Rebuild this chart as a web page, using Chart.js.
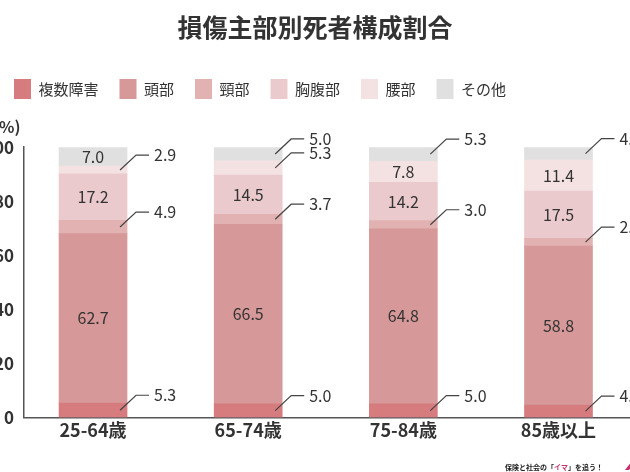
<!DOCTYPE html>
<html><head><meta charset="utf-8">
<script src="https://cdn.jsdelivr.net/npm/chart.js@4.4.1/dist/chart.umd.min.js"></script>
<style>
html,body{margin:0;padding:0;background:#fff;overflow:hidden;width:630px;height:472px;}
#wrap{position:absolute;left:-14px;top:0;width:658px;height:472px;}
</style></head><body>
<div id="wrap"><canvas id="c" width="658" height="472"></canvas></div>
<script>
const categories = ['25-64歳','65-74歳','75-84歳','85歳以上'];
const seriesNames = ['複数障害','頭部','頸部','胸腹部','腰部','その他'];
const multiple = [5.3, 5.0, 5.0, 4.6];
const head = [62.7, 66.5, 64.8, 58.8];
const neck = [4.9, 3.7, 3.0, 2.9];
const chestAbdomen = [17.2, 14.5, 14.2, 17.5];
const waist = [2.9, 5.3, 7.8, 11.4];
const other = [7.0, 5.0, 5.3, 4.8];
const yTicks = [0, 20, 40, 60, 80, 100];
const colors = ['#d67b7e','#d69898','#e2b2b2','#eacacc','#f4e2e3','#e0e0e0'];
const seriesValues = [multiple, head, neck, chestAbdomen, waist, other];
const FONT = '"Noto Sans CJK JP","Noto Sans",sans-serif';

const valueLabels = {
  id: 'valueLabels',
  afterDatasetsDraw(chart) {
    const ctx = chart.ctx;
    ctx.save();
    chart.data.datasets.forEach((ds, di) => {
      const meta = chart.getDatasetMeta(di);
      meta.data.forEach((bar, i) => {
        const p = bar.getProps(['x','y','base','width'], true);
        const v = ds.data[i].y;
        const cy = (p.y + p.base) / 2;
        const txt = v.toFixed(1);
        ctx.font = '16px ' + FONT;
        ctx.fillStyle = '#333';
        ctx.textBaseline = 'middle';
        if (v >= 6) {
          ctx.textAlign = 'center';
          ctx.fillText(txt, p.x, cy);
        } else {
          const r = p.x + p.width / 2;
          const ly = cy - 15;
          ctx.strokeStyle = '#444';
          ctx.lineWidth = 1.2;
          ctx.beginPath();
          ctx.moveTo(r - 7, cy);
          ctx.lineTo(r + 9, ly);
          ctx.lineTo(r + 22, ly);
          ctx.stroke();
          ctx.textAlign = 'left';
          ctx.fillText(txt, r + 27, ly);
        }
      });
    });
    ctx.restore();
  }
};

const footer = {
  id: 'footer',
  afterDraw(chart) {
    const ctx = chart.ctx;
    ctx.save();
    ctx.font = 'bold 7px ' + FONT;
    ctx.textBaseline = 'middle';
    ctx.textAlign = 'left';
    let x = chart.chartArea.right - 132;
    const y = chart.height - 5;
    const parts = [['保険と社会の「', '#222'], ['イマ', '#c2306e'], ['」を追う！', '#222']];
    parts.forEach(([t, c]) => {
      ctx.fillStyle = c;
      ctx.fillText(t, x, y);
      x += ctx.measureText(t).width;
    });
    ctx.fillStyle = '#c2306e';
    ctx.beginPath();
    ctx.moveTo(chart.chartArea.right - 12, y + 3);
    ctx.lineTo(chart.chartArea.right - 5, y - 6);
    ctx.lineTo(chart.chartArea.right - 3, y - 3);
    ctx.lineTo(chart.chartArea.right - 8, y + 3);
    ctx.closePath();
    ctx.fill();
    ctx.restore();
  }
};

new Chart(document.getElementById('c'), {
  type: 'bar',
  data: {
    datasets: seriesNames.map((n, si) => ({
      label: n,
      data: categories.map((c, i) => ({ x: i, y: seriesValues[si][i] })),
      backgroundColor: colors[si],
      borderWidth: 0,
      barThickness: 68
    }))
  },
  options: {
    responsive: false,
    animation: false,
    layout: { padding: { left: 7, right: 7, top: 0, bottom: 29 } },
    plugins: {
      title: {
        display: true, text: '損傷主部別死者構成割合',
        font: { family: FONT, size: 25, weight: 'bold' }, color: '#333',
        padding: { top: 12, bottom: 16 }
      },
      subtitle: {
        display: true, text: '(%)', align: 'start', position: 'top', weight: 500,
        font: { family: FONT, size: 16, weight: 'bold' }, color: '#333',
        padding: { top: 8, bottom: 11 }
      },
      legend: {
        display: true, align: 'start',
        labels: { boxWidth: 17, boxHeight: 20, padding: 21, font: { family: FONT, size: 15 }, color: '#333' }
      },
      tooltip: { enabled: false }
    },
    scales: {
      x: {
        type: 'linear', stacked: true, min: -0.445, max: 3.506, offset: false,
        grid: { display: false, drawTicks: false, offset: false },
        border: { display: true, color: '#555', width: 1.5 },
        afterBuildTicks: s => { s.ticks = categories.map((c, i) => ({ value: i })); },
        ticks: {
          padding: 2, autoSkip: false, maxRotation: 0,
          font: { family: FONT, size: 18, weight: 'bold' }, color: '#333',
          callback: v => categories[v] ?? ''
        }
      },
      y: {
        stacked: true, min: 0, max: 100,
        grid: { display: false, drawTicks: false },
        border: { display: true, color: '#555', width: 1.5 },
        afterBuildTicks: s => { s.ticks = yTicks.map(v => ({ value: v })); },
        afterFit: s => { s.width = 31; },
        ticks: { padding: 10, font: { family: FONT, size: 17, weight: 'bold' }, color: '#333' }
      }
    }
  },
  plugins: [valueLabels, footer]
});
</script>
</body></html>
